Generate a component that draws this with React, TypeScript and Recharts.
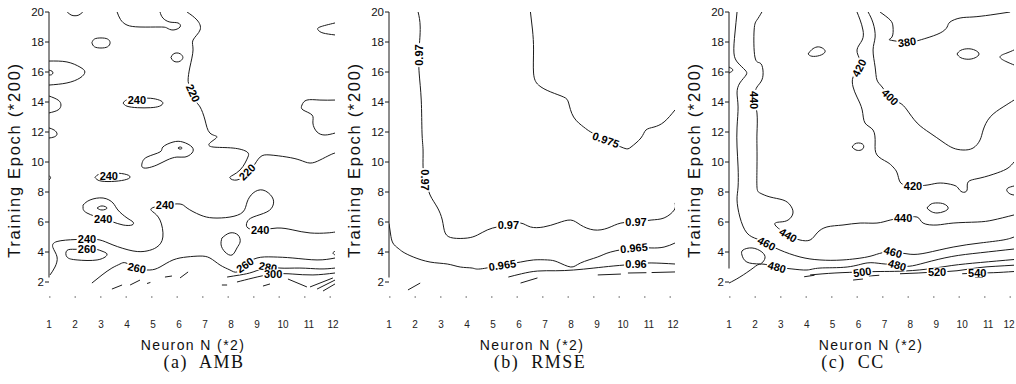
import React from 'react';
import { ComposedChart, Line, Scatter, XAxis, YAxis, ReferenceLine } from 'recharts';

type P = [number, number];

// ---------- axes ----------
const xTicks = [1, 2, 3, 4, 5, 6, 7, 8, 9, 10, 11, 12];
const xTickLabels = ['1', '2', '3', '4', '5', '6', '7', '8', '9', '10', '11', '12'];
const yTicks = [2, 4, 6, 8, 10, 12, 14, 16, 18, 20];
const xAxisTitle = 'Neuron N (*2)';
const yAxisTitle = 'Training Epoch (*200)';
const panelCaptions = ['(a)  AMB', '(b)  RMSE', '(c)  CC'];

// ---------- (a) AMB contours ----------
const ambTopArc: P[] = [[1.7, 20], [1.85, 19.8], [2.0, 19.75], [2.15, 19.8], [2.3, 20]];
const ambTopLobe: P[] = [[3.62, 20], [3.75, 19.5], [4.0, 19.13], [4.5, 19.0], [5.27, 19.0], [5.54, 18.93], [5.77, 18.8], [6.04, 19.0], [5.96, 19.27], [5.65, 19.33], [5.38, 19.6], [5.27, 20]];
const amb220: P[] = [[6.31, 20], [6.69, 19.47], [6.81, 18.8], [6.54, 18.13], [6.54, 17.47], [6.42, 16.33], [6.35, 15.47], [6.42, 15.0], [6.62, 14.13], [6.81, 13.67], [7.0, 12.8], [7.19, 11.93], [7.46, 11.67], [7.19, 11.27], [7.31, 11.0], [8.08, 10.93], [8.62, 10.67], [8.65, 10.33], [8.54, 9.93], [8.35, 9.47], [8.08, 9.13], [7.96, 8.93], [8.23, 8.8], [8.62, 9.2], [8.85, 9.67], [9.12, 10.33], [9.5, 10.47], [10.15, 10.33], [10.65, 10.13], [11.04, 9.93], [11.42, 10.13], [11.81, 10.47], [12, 10.6]];
const ambLoop18: P[] = [[2.65, 17.95], [2.75, 18.2], [3.0, 18.27], [3.25, 18.2], [3.35, 17.95], [3.25, 17.68], [3.0, 17.6], [2.75, 17.68], [2.65, 17.95]];
const ambLoop17: P[] = [[5.69, 16.97], [5.78, 17.2], [5.92, 17.27], [6.06, 17.2], [6.15, 16.97], [6.06, 16.74], [5.92, 16.67], [5.78, 16.74], [5.69, 16.97]];
const ambLeft16: P[] = [[1.0, 16.73], [1.69, 16.67], [2.19, 16.33], [2.38, 16.0], [2.19, 15.6], [1.69, 15.27], [1.0, 15.13]];
const ambLeft16in: P[] = [[1.0, 16.13], [1.12, 16.05], [1.15, 15.93], [1.1, 15.82], [1.0, 15.8]];
const ambLeft14: P[] = [[1.0, 14.4], [1.35, 14.13], [1.46, 13.8], [1.35, 13.47], [1.0, 13.27]];
const ambLeft12: P[] = [[1.0, 12.27], [1.2, 12.13], [1.31, 11.87], [1.2, 11.67], [1.0, 11.6]];
const ambLeft9: P[] = [[1.0, 9.1], [1.06, 8.95], [1.0, 8.8]];
const amb240at14: P[] = [[3.85, 13.93], [4.0, 14.15], [4.4, 14.25], [4.9, 14.25], [5.25, 14.12], [5.38, 13.93], [5.25, 13.72], [4.9, 13.62], [4.4, 13.62], [4.0, 13.72], [3.85, 13.93]];
const ambBlob10: P[] = [[4.58, 9.93], [4.77, 10.33], [5.27, 10.67], [5.38, 11.0], [5.77, 11.33], [6.15, 11.33], [6.5, 11.0], [6.5, 10.6], [6.23, 10.33], [5.92, 10.33], [5.54, 10.13], [5.15, 9.8], [4.77, 9.6], [4.58, 9.67], [4.58, 9.93]];
const ambDiamond11: P[] = [[5.96, 10.93], [6.04, 11.0], [6.12, 10.93], [6.04, 10.86], [5.96, 10.93]];
const amb240at9: P[] = [[2.77, 8.97], [2.95, 9.2], [3.4, 9.27], [3.9, 9.2], [4.12, 9.0], [3.9, 8.8], [3.4, 8.7], [2.95, 8.75], [2.77, 8.97]];
const ambLoop7: P[] = [[2.31, 7.13], [2.58, 7.47], [3.08, 7.6], [3.46, 7.27], [3.65, 6.8], [4.0, 6.27], [4.23, 6.0], [4.19, 5.8], [3.85, 5.8], [3.46, 6.0], [3.08, 6.2], [2.46, 6.6], [2.31, 6.93], [2.31, 7.13]];
const ambLoop7in: P[] = [[2.85, 6.93], [3.04, 7.07], [3.23, 6.93], [3.04, 6.8], [2.85, 6.93]];
const amb240: P[] = [[1.04, 2.47], [1.23, 3.0], [1.31, 3.67], [1.15, 4.3], [1.31, 4.7], [2.0, 4.83], [2.5, 4.85], [2.96, 4.8], [3.46, 4.47], [4.23, 4.07], [4.77, 4.07], [5.15, 4.33], [5.38, 5.0], [5.27, 6.13], [5.0, 6.67], [4.96, 6.93], [5.46, 7.13], [6.04, 7.2], [6.31, 6.93], [6.81, 6.47], [7.31, 6.27], [7.96, 6.33], [8.46, 6.67], [8.62, 7.33], [8.85, 7.93], [9.23, 8.13], [9.58, 7.67], [9.62, 7.13], [9.38, 6.67], [8.85, 6.33], [8.62, 6.0], [8.65, 5.6], [9.12, 5.47], [9.77, 5.6], [10.38, 5.47], [11.04, 5.27], [11.69, 5.27], [12, 5.33]];
const ambBlob5: P[] = [[7.65, 4.93], [7.96, 5.27], [8.27, 5.13], [8.35, 4.67], [8.23, 4.27], [8.04, 3.8], [7.77, 4.0], [7.62, 4.47], [7.65, 4.93]];
const amb260loop: P[] = [[2.46, 4.2], [2.77, 4.2], [3.08, 4.03], [3.23, 3.8], [2.85, 3.47], [2.08, 3.47], [1.69, 3.67], [1.69, 4.1], [2.0, 4.18], [2.46, 4.2]];
const amb260: P[] = [[2.65, 1.93], [3.04, 2.47], [3.42, 2.93], [3.73, 3.2], [3.96, 3.27], [4.38, 2.93], [4.88, 2.8], [5.27, 3.0], [5.77, 3.47], [6.31, 3.67], [6.81, 3.73], [7.19, 3.6], [7.58, 3.13], [7.96, 2.8], [8.23, 2.67], [8.54, 3.13], [9.0, 3.6], [9.62, 3.67], [10.38, 3.6], [11.31, 3.47], [12, 3.6]];
const amb280: P[] = [[7.85, 2.33], [8.35, 2.47], [8.85, 2.67], [9.42, 3.0], [9.88, 2.93], [10.65, 2.93], [11.42, 2.87], [12, 2.93]];
const amb300: P[] = [[8.23, 2.0], [8.85, 2.27], [9.62, 2.53], [10.38, 2.53], [11.15, 2.47], [12, 2.6]];
const ambRight19: P[] = [[12, 19.27], [11.42, 19.0], [11.35, 18.8], [11.54, 18.6], [12, 18.47]];
const ambRight14: P[] = [[12, 14.13], [11.42, 14.13], [10.92, 14.13], [10.73, 13.8], [10.77, 13.47], [11.12, 13.13], [11.15, 12.6], [11.31, 12.0], [11.62, 11.8], [12, 11.93]];
const ambRight4: P[] = [[12, 4.05], [11.92, 3.93], [12, 3.8]];
const ambFragments: P[][] = [
  [[10.19, 2.2], [10.92, 1.67]], [[11.04, 1.67], [11.92, 2.27]], [[11.31, 1.53], [12, 2.13]], [[11.54, 1.4], [12, 1.87]],
  [[3.42, 1.53], [3.81, 1.8]], [[4.12, 1.8], [4.5, 2.13]], [[4.77, 1.9], [4.9, 1.97]], [[5.46, 2.33], [5.73, 2.4]],
  [[6.04, 2.27], [6.35, 2.67]], [[7.65, 1.8], [7.85, 1.8]], [[9.23, 1.73], [9.5, 1.87]],
];
const ambLabelText = ['220', '220', '240', '240', '240', '240', '260', '240', '240', '260', '260', '280', '300'];
const ambLabelPos: P[] = [[6.54, 14.6], [8.62, 9.33], [4.38, 14.13], [3.3, 9.1], [3.08, 6.2], [2.46, 4.86], [2.46, 4.19], [5.46, 7.13], [9.12, 5.47], [4.38, 2.93], [8.54, 3.13], [9.42, 3.0], [9.62, 2.53]];
const ambLabelAngle = [65, -45, 0, 0, 0, 0, 0, 0, 0, 12, -35, 10, 0];

// ---------- (b) RMSE contours ----------
const rmse097: P[] = [[2.12, 20], [2.2, 19.0], [2.16, 17.67], [2.14, 17.13], [2.16, 15.93], [2.24, 14.13], [2.27, 11.93], [2.31, 10.8], [2.31, 9.67], [2.39, 8.8], [2.58, 7.8], [2.85, 7.0], [3.05, 6.13], [3.16, 5.27], [3.47, 4.93], [4.01, 4.93], [4.4, 5.13], [4.78, 5.47], [5.17, 5.67], [5.59, 5.8], [6.06, 5.93], [6.44, 5.67], [6.95, 5.67], [7.49, 5.93], [7.99, 6.13], [8.37, 5.8], [8.88, 5.47], [9.42, 5.6], [9.92, 5.93], [10.5, 6.0], [11.08, 6.13], [11.58, 6.27], [11.97, 6.8], [12, 7.27]];
const rmse0975: P[] = [[6.44, 20], [6.52, 18.8], [6.56, 17.47], [6.56, 15.93], [6.75, 15.13], [7.22, 14.67], [7.72, 14.33], [7.91, 13.93], [8.1, 13.0], [8.49, 12.33], [8.76, 12.0], [9.34, 11.47], [10.03, 10.93], [10.31, 11.0], [10.69, 11.6], [10.88, 12.13], [11.19, 12.33], [11.58, 12.67], [12, 13.47]];
const rmse0965: P[] = [[1.0, 5.9], [1.06, 5.2], [1.15, 4.6], [1.35, 4.25], [1.54, 4.0], [1.93, 3.67], [2.58, 3.33], [3.24, 3.2], [3.74, 3.0], [4.2, 2.93], [4.51, 2.87], [5.36, 3.13], [6.06, 3.33], [6.56, 3.47], [7.1, 3.47], [7.49, 3.33], [7.99, 3.0], [8.37, 3.27], [9.03, 3.67], [9.53, 4.0], [10.42, 4.27], [11.08, 4.27], [11.58, 4.33], [12, 4.6]];
const rmse096: P[] = [[5.59, 2.33], [6.1, 2.55], [6.71, 2.73], [7.4, 2.75], [8.1, 2.8], [8.88, 2.93], [9.65, 3.07], [10.5, 3.2], [11.08, 3.27], [12, 3.2]];
const rmseFragments: P[][] = [
  [[6.06, 1.93], [6.71, 2.27]], [[9.03, 2.47], [9.92, 2.53]], [[10.19, 2.6], [10.9, 2.62]], [[11.1, 2.63], [12, 2.67]], [[1.73, 1.47], [2.2, 1.93]],
];
const rmseLabelText = ['0.97', '0.97', '0.97', '0.97', '0.975', '0.965', '0.965', '0.96'];
const rmseLabelPos: P[] = [[2.14, 17.13], [2.39, 8.8], [5.59, 5.8], [10.5, 6.0], [9.34, 11.47], [5.36, 3.13], [10.42, 4.27], [10.5, 3.2]];
const rmseLabelAngle = [-90, 90, 0, 0, 20, -8, -5, 0];

// ---------- (c) CC contours ----------
const cc460: P[] = [[1.31, 20], [1.23, 18.6], [1.19, 17.27], [1.35, 16.6], [1.62, 16.13], [1.66, 15.8], [1.42, 15.27], [1.31, 14.6], [1.35, 13.67], [1.31, 12.33], [1.31, 11.0], [1.35, 9.67], [1.35, 8.33], [1.31, 7.47], [1.42, 6.33], [1.69, 5.27], [2.08, 4.87], [2.45, 4.57], [2.97, 4.13], [3.74, 3.67], [4.51, 3.47], [5.4, 3.47], [6.33, 3.67], [6.8, 3.9], [7.33, 4.0], [7.99, 3.85], [8.64, 3.95], [9.65, 4.33], [10.69, 4.6], [11.58, 4.8], [12, 5.0]];
const cc440: P[] = [[2.27, 20], [2.08, 19.47], [1.97, 18.8], [2.0, 17.0], [2.2, 16.6], [2.31, 16.13], [2.27, 15.47], [2.08, 15.0], [2.0, 14.6], [1.97, 14.13], [2.08, 13.27], [2.08, 11.93], [2.08, 11.0], [2.08, 9.67], [2.08, 8.33], [2.2, 7.93], [2.58, 7.67], [3.08, 7.47], [3.36, 7.13], [3.47, 6.6], [3.28, 6.13], [2.97, 6.0], [2.78, 5.8], [3.28, 5.13], [3.74, 4.8], [4.13, 4.8], [4.4, 5.27], [4.78, 5.67], [5.4, 5.8], [6.06, 5.93], [6.71, 5.93], [7.22, 6.13], [7.72, 6.27], [8.26, 6.33], [8.49, 5.93], [9.03, 5.8], [9.65, 5.93], [10.58, 6.0], [11.19, 6.13], [12, 6.47]];
const cc420: P[] = [[5.94, 20], [6.06, 19.47], [6.17, 18.8], [6.14, 18.13], [5.94, 17.47], [6.06, 16.8], [6.02, 16.27], [5.79, 15.67], [5.79, 15.0], [5.94, 14.33], [6.14, 13.47], [6.25, 12.6], [6.56, 12.13], [6.64, 11.27], [6.71, 10.47], [7.1, 10.0], [7.33, 9.67], [7.49, 9.27], [7.6, 8.67], [7.8, 8.47], [8.1, 8.4], [8.68, 8.47], [9.15, 8.6], [9.65, 8.47], [9.84, 8.27], [10.0, 8.0], [10.19, 8.13], [10.23, 8.67], [10.69, 8.93], [11.35, 9.27], [11.77, 9.6], [12, 10.0]];
const cc400: P[] = [[6.37, 20], [6.56, 19.27], [6.64, 18.33], [6.56, 17.47], [6.64, 16.33], [6.71, 15.47], [6.91, 15.0], [7.22, 14.33], [7.6, 13.93], [7.87, 13.47], [8.26, 12.6], [8.76, 11.93], [9.26, 11.33], [9.65, 10.93], [10.03, 10.8], [10.42, 10.93], [10.69, 11.47], [10.81, 12.13], [11.08, 13.0], [11.58, 13.67], [12, 14.13]];
const cc380: P[] = [[6.83, 20], [7.22, 19.47], [7.33, 19.0], [7.29, 18.33], [7.22, 18.13], [7.87, 18.0], [8.37, 18.13], [8.64, 18.27], [9.15, 18.6], [9.42, 19.0], [9.53, 19.33], [9.92, 19.6], [10.42, 19.67], [11.08, 19.8], [11.85, 20]];
const cc480: P[] = [[1.0, 1.93], [1.42, 2.33], [1.93, 2.93], [2.27, 3.2], [2.85, 3.0], [3.43, 2.87], [4.01, 2.8], [4.51, 2.93], [5.56, 3.0], [6.33, 3.27], [6.9, 3.22], [7.49, 3.13], [7.95, 3.05], [8.6, 3.3], [9.6, 3.7], [10.7, 3.95], [12, 4.2]];
const cc500: P[] = [[4.13, 2.47], [5.09, 2.6], [6.14, 2.67], [6.83, 2.7], [7.6, 2.72], [8.6, 2.85], [9.6, 3.1], [10.7, 3.3], [12, 3.5]];
const cc520: P[] = [[7.6, 2.55], [8.3, 2.6], [9.03, 2.67], [9.8, 2.75], [10.6, 2.95], [11.3, 3.05], [12, 3.12]];
const cc540: P[] = [[10.0, 2.55], [10.58, 2.6], [11.2, 2.62], [12, 2.7]];
const ccLoopLow: P[] = [[2.2, 3.2], [1.69, 3.33], [1.5, 3.8], [1.54, 4.13], [1.89, 4.27], [2.27, 4.0], [2.39, 3.6], [2.27, 3.27], [2.2, 3.2]];
const ccLoop17a: P[] = [[4.05, 17.2], [4.2, 17.5], [4.4, 17.67], [4.6, 17.6], [4.71, 17.35], [4.5, 17.1], [4.2, 17.05], [4.05, 17.2]];
const ccLoop17b: P[] = [[9.8, 17.2], [9.95, 17.45], [10.23, 17.55], [10.5, 17.45], [10.65, 17.2], [10.5, 16.95], [10.23, 16.85], [9.95, 16.95], [9.8, 17.2]];
const ccRight17: P[] = [[12, 17.47], [11.73, 17.27], [11.46, 17.0], [11.73, 16.67], [12, 16.47]];
const ccLoop11: P[] = [[5.75, 11.0], [5.85, 11.2], [6.0, 11.27], [6.15, 11.2], [6.2, 11.0], [6.1, 10.8], [5.9, 10.8], [5.75, 11.0]];
const ccLoop7: P[] = [[8.64, 6.93], [8.8, 7.2], [9.03, 7.27], [9.3, 7.2], [9.46, 6.93], [9.3, 6.7], [9.03, 6.6], [8.8, 6.7], [8.64, 6.93]];
const ccRight8: P[] = [[12, 8.4], [11.77, 8.27], [11.73, 8.07], [11.85, 7.87], [12, 7.8]];
const ccLeft16: P[] = [[1.0, 16.33], [1.15, 16.13], [1.0, 15.93]];
const ccFragments: P[][] = [
  [[3.9, 2.35], [4.3, 2.45]], [[5.79, 2.13], [6.17, 2.2]], [[6.4, 2.4], [6.8, 2.45]], [[8.8, 2.42], [9.3, 2.44]], [[10.5, 2.3], [10.8, 2.3]],
];
const ccLabelText = ['440', '460', '460', '440', '440', '420', '420', '400', '380', '480', '480', '500', '520', '540'];
const ccLabelPos: P[] = [[1.97, 14.13], [2.45, 4.57], [7.33, 4.0], [3.28, 5.13], [7.72, 6.27], [6.02, 16.27], [8.1, 8.4], [7.22, 14.33], [7.87, 18.0], [2.85, 3.0], [7.49, 3.13], [6.14, 2.67], [9.03, 2.67], [10.58, 2.6]];
const ccLabelAngle = [90, 28, 15, 30, 0, -62, 0, 45, -8, 15, 15, -8, 0, 0];

// ---------- rendering ----------
const toPts = (a: P[]) => a.map(([x, y]) => ({ x, y }));
const INK = '#1b1b1b';
const SANS = '"Liberation Sans", Arial, sans-serif';

const LabelShape = (props: any) => {
  const { cx, cy, payload } = props;
  if (cx == null || cy == null || !payload) return <g />;
  const t: string = payload.text;
  let w = 2;
  for (const ch of t) w += ch === '.' ? 3.2 : 6.2;
  return (
    <g transform={`translate(${cx},${cy}) rotate(${payload.angle})`}>
      <rect x={-w / 2} y={-4.5} width={w} height={9} fill="#fff" />
      <text x={0} y={0} textAnchor="middle" dominantBaseline="central" fontSize={11} fontWeight="bold" fill="#000" fontFamily={SANS}>
        {t}
      </text>
    </g>
  );
};

const makeXTick = (maxX: number) => (props: any) => {
  const { x, y, payload } = props;
  const tx = Math.min(x, maxX);
  return (
    <text x={tx} y={y} dy="0.71em" textAnchor="middle" fontSize={10} fill="#222" fontFamily={SANS}>
      {xTickLabels[payload.value - 1]}
    </text>
  );
};

type PanelProps = {
  left: number; width: number; rightMargin: number; axisFrom: number;
  lines: P[][]; fragments: P[][]; labelText: string[]; labelPos: P[]; labelAngle: number[];
};

function Panel(p: PanelProps) {
  const labelRows = p.labelText.map((t, i) => ({ x: p.labelPos[i][0], y: p.labelPos[i][1], text: t, angle: p.labelAngle[i] }));
  const XTick = makeXTick(p.width - 7);
  return (
    <div style={{ position: 'absolute', left: p.left, top: 0, width: p.width, height: 384 }}>
      <ComposedChart width={p.width} height={384} margin={{ top: 12, right: p.rightMargin, bottom: 57, left: 19 }}>
        <XAxis xAxisId="b" type="number" dataKey="x" domain={[1, 12]} ticks={xTicks} interval={0} allowDataOverflow
          tickLine={false} tickSize={4} tickMargin={20} height={30}
          axisLine={{ stroke: '#555', strokeDasharray: '1.5 24' }}
          tick={<XTick />} />
        <XAxis xAxisId="t" orientation="top" type="number" dataKey="x" domain={[1, 12]} ticks={xTicks} interval={0} allowDataOverflow
          height={0} tickSize={3} tick={false} axisLine={{ stroke: INK }} tickLine={{ stroke: INK }} />
        <YAxis yAxisId="l" type="number" dataKey="y" domain={[1, 20]} ticks={yTicks} interval={0} allowDataOverflow
          width={30} tickSize={4} tickMargin={1} axisLine={false} tickLine={{ stroke: INK }}
          tick={{ fontSize: 11.5, fill: '#111', fontFamily: SANS }} />
        <YAxis yAxisId="r" orientation="right" mirror type="number" dataKey="y" domain={[1, 20]} ticks={yTicks} interval={0} allowDataOverflow
          width={0} tickSize={3} tick={false} axisLine={{ stroke: INK }} tickLine={{ stroke: INK }} />
        <ReferenceLine xAxisId="b" yAxisId="l" segment={[{ x: 1, y: p.axisFrom }, { x: 1, y: 20 }]} stroke={INK} strokeWidth={1} />
        {p.lines.map((c, i) => (
          <Line key={'c' + i} xAxisId="b" yAxisId="l" data={toPts(c)} dataKey="y" type="natural" stroke={INK} strokeWidth={1}
            dot={false} activeDot={false} isAnimationActive={false} />
        ))}
        {p.fragments.map((c, i) => (
          <Line key={'f' + i} xAxisId="b" yAxisId="l" data={toPts(c)} dataKey="y" type="linear" stroke={INK} strokeWidth={1}
            dot={false} activeDot={false} isAnimationActive={false} />
        ))}
        <Scatter xAxisId="b" yAxisId="l" data={labelRows} shape={LabelShape} isAnimationActive={false} />
      </ComposedChart>
    </div>
  );
}

const ambLines: P[][] = [ambTopArc, ambTopLobe, amb220, ambLoop18, ambLoop17, ambLeft16, ambLeft16in, ambLeft14, ambLeft12, ambLeft9, amb240at14, ambBlob10, ambDiamond11, amb240at9, ambLoop7, ambLoop7in, amb240, ambBlob5, amb260loop, amb260, amb280, amb300, ambRight19, ambRight14, ambRight4];
const rmseLines: P[][] = [rmse097, rmse0975, rmse0965, rmse096];
const ccLines: P[][] = [cc460, cc440, cc420, cc400, cc380, cc480, cc500, cc520, cc540, ccLoopLow, ccLoop17a, ccLoop17b, ccRight17, ccLoop11, ccLoop7, ccRight8, ccLeft16];

const panelLayout = [
  { left: 0, width: 340, rightMargin: 5, axisFrom: 2.3, yTitleX: 14, xTitleX: 193, capX: 204 },
  { left: 340, width: 340, rightMargin: 5, axisFrom: 2.3, yTitleX: 354, xTitleX: 532, capX: 540 },
  { left: 680, width: 336, rightMargin: 2, axisFrom: 2.9, yTitleX: 694, xTitleX: 871, capX: 853 },
];

export default function App() {
  const data = [
    { lines: ambLines, fragments: ambFragments, labelText: ambLabelText, labelPos: ambLabelPos, labelAngle: ambLabelAngle },
    { lines: rmseLines, fragments: rmseFragments, labelText: rmseLabelText, labelPos: rmseLabelPos, labelAngle: rmseLabelAngle },
    { lines: ccLines, fragments: ccFragments, labelText: ccLabelText, labelPos: ccLabelPos, labelAngle: ccLabelAngle },
  ];
  return (
    <div style={{ position: 'absolute', left: 0, top: 0, width: 1016, height: 384, background: '#fff', overflow: 'hidden' }}>
      {panelLayout.map((L, i) => (
        <Panel key={i} left={L.left} width={L.width} rightMargin={L.rightMargin} axisFrom={L.axisFrom} {...data[i]} />
      ))}
      <svg width={1016} height={384} style={{ position: 'absolute', left: 0, top: 0, pointerEvents: 'none' }}>
        {panelLayout.map((L, i) => (
          <g key={i}>
            <text transform={`translate(${L.yTitleX},160) rotate(-90)`} textAnchor="middle" dominantBaseline="central"
              fontSize={16.5} letterSpacing={1.7} fill="#111" fontFamily={SANS}>{yAxisTitle}</text>
            <text x={L.xTitleX} y={350} textAnchor="middle" fontSize={14} letterSpacing={1.4} fill="#111"
              fontFamily={SANS}>{xAxisTitle}</text>
            <text x={L.capX} y={368} textAnchor="middle" fontSize={18} letterSpacing={1.5} fill="#111" style={{ whiteSpace: 'pre' }}
              fontFamily='"Liberation Serif", "Times New Roman", serif'>{panelCaptions[i]}</text>
          </g>
        ))}
      </svg>
    </div>
  );
}
